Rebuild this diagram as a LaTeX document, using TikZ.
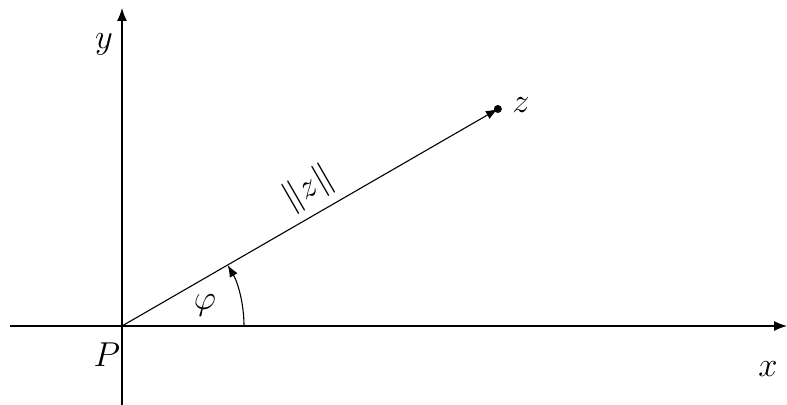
\documentclass[tikz,border=0pt]{standalone}
\usepackage{tikz}
\usetikzlibrary{positioning, arrows.meta, calc}
\usepackage{amsmath,amssymb}

\begin{document}
\begin{tikzpicture}[
  x=0.5pt, y=0.5pt,
  axisline/.style={line width=0.6pt, -{Latex[length=6.5pt,width=5pt]}},
  vecline/.style={line width=0.55pt, -{Latex[length=6pt,width=4.5pt]}},
  anglearc/.style={line width=0.55pt, -{Latex[length=6pt,width=4.5pt]}},
  axlabel/.style={font=\fontsize{16}{19}\selectfont, inner sep=0pt},
]
\useasboundingbox (0,0) rectangle (787,405);

% AXES
\coordinate (P) at (122,79);
\coordinate (xstart) at (10,79);
\coordinate (xend) at (787,79);
\coordinate (ystart) at (122,0);
\coordinate (yend) at (122,397);
\draw[axisline] (xstart) -- (xend);
\draw[axisline] (ystart) -- (yend);
\node[axlabel] (xlab) at (768,36) {$x$};
\node[axlabel] (ylab) at (104,361) {$y$};
\node[axlabel] (Plab) at (107,50) {$P$};

% VECTOR
\coordinate (z) at ($(P)+(30:434)$);
\draw[vecline] (P) -- (z);
\fill (z) circle (4);
\node[axlabel, right=7pt of z, yshift=2pt] (zlab) {$z$};
\path (P) -- (z) node[axlabel, pos=0.53, sloped, above=4pt] (normlab) {$\lVert z\rVert$};

% ANGLE
\coordinate (arcstart) at ($(P)+(0:122)$);
\draw[anglearc] (arcstart) arc[start angle=0, end angle=30, radius=122];
\node[axlabel] (philab) at (205,100) {$\varphi$};

\end{tikzpicture}
\end{document}
